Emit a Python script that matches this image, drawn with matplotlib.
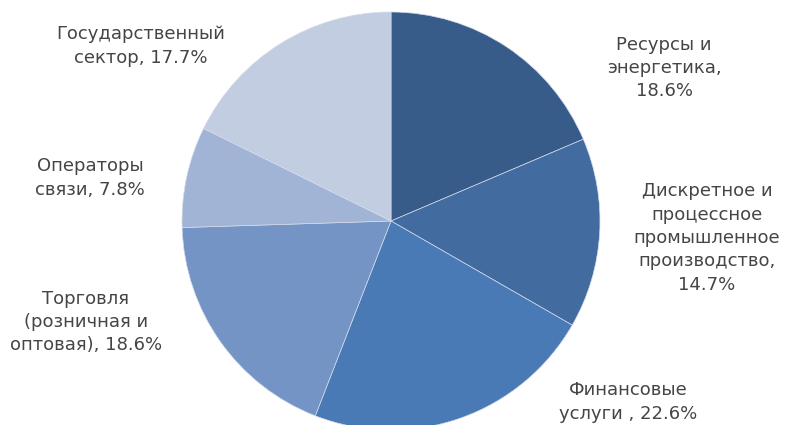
import matplotlib.pyplot as plt

# share by industry, clockwise from 12 o'clock
sectors = ["Ресурсы и\nэнергетика,\n",
           "Дискретное и\nпроцессное\nпромышленное\nпроизводство,\n",
           "Финансовые\nуслуги , ",
           "Торговля\n(розничная и\nоптовая), ",
           "Операторы\nсвязи, ",
           "Государственный\nсектор, "]
shares = [18.6, 14.7, 22.6, 18.6, 7.8, 17.7]
colors = ["#375c8a", "#426c9f", "#4a7ab5", "#7394c5", "#a2b4d5", "#c3cde2"]

fig = plt.figure(figsize=(7.87, 4.25), dpi=100)
ax = fig.add_axes([0, 0, 1, 1])

ax.pie(shares, colors=colors, startangle=90, counterclock=False,
       center=(391, 204), radius=209, frame=True,
       wedgeprops=dict(edgecolor="#d3dbea", linewidth=0.5))
ax.set_xlim(0, 787)
ax.set_ylim(0, 425)
ax.set_aspect("auto")
ax.axis("off")

# label anchor points (centre of each text block), in pixels from bottom-left
label_xy = [(664, 357), (707, 187), (628, 23), (86, 103), (90, 247), (141, 379)]
for name, v, (x, y) in zip(sectors, shares, label_xy):
    ax.text(x, y, f"{name}{v}%", ha="center", va="center", fontsize=13,
            family="DejaVu Sans", color="#454545", linespacing=1.38)

fig.savefig("out.png", dpi=100)
